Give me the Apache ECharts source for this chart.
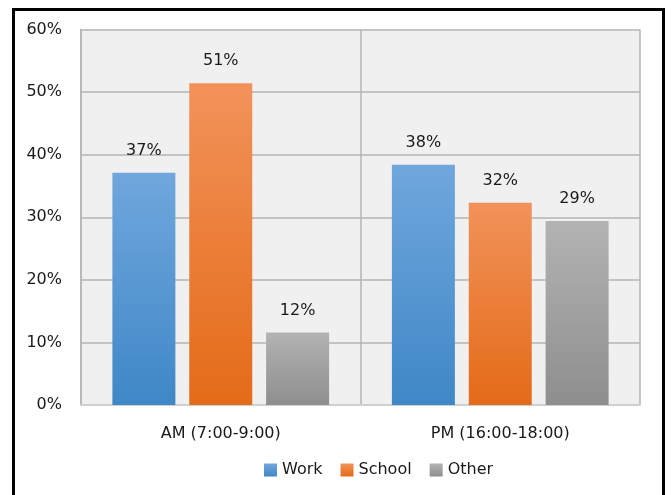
<!DOCTYPE html>
<html>
<head>
<meta charset="utf-8">
<script src="https://cdn.jsdelivr.net/npm/echarts@6/dist/echarts.min.js"></script>
<style>
html,body{margin:0;padding:0;background:#fff;}
#c{width:671px;height:495px;}
</style>
</head>
<body>
<div id="c"></div>
<script>
const categories = ['AM (7:00-9:00)', 'PM (16:00-18:00)'];
const work = [37.1, 38.4];
const school = [51.4, 32.3];
const other = [11.6, 29.4];
const seriesNames = ['Work', 'School', 'Other'];

const FONT = '"DejaVu Sans", sans-serif';
function grad(top, bottom) {
  return new echarts.graphic.LinearGradient(0, 0, 0, 1, [
    {offset: 0, color: top}, {offset: 1, color: bottom}
  ]);
}
const colors = [
  grad('#70a7dd', '#3f87c7'),
  grad('#f2925a', '#e46b18'),
  grad('#b3b3b3', '#8e8e8e')
];
const chart = echarts.init(document.getElementById('c'), null, {renderer: 'canvas'});
const label = {
  show: true, position: 'top', distance: 14,
  fontFamily: FONT, fontSize: 16, color: '#1a1a1a',
  formatter: p => Math.round(p.value) + '%'
};
chart.setOption({
  animation: false,
  backgroundColor: '#fff',
  graphic: [{
    type: 'rect', left: 11, top: 7, z: 100,
    shape: {x: 11, y: 7, width: 650, height: 520},
    style: {fill: 'none', stroke: '#000', lineWidth: 3}
  }],
  grid: {left: 81, right: 31, top: 29.5, bottom: 90, show: true,
         backgroundColor: '#f0f0f0', borderWidth: 0},
  legend: {
    data: seriesNames, left: 259, top: 457, icon: 'rect',
    itemWidth: 13, itemHeight: 13, itemGap: 18,
    textStyle: {fontFamily: FONT, fontSize: 16, color: '#1a1a1a'}
  },
  xAxis: {
    type: 'category', data: categories,
    axisLine: {lineStyle: {color: '#d0d0d0', width: 2}},
    axisTick: {show: false},
    splitLine: {show: true, lineStyle: {color: '#b4b4b4', width: 1.5}},
    axisLabel: {fontFamily: FONT, fontSize: 16, color: '#1a1a1a', margin: 21}
  },
  yAxis: {
    type: 'value', min: 0, max: 60, interval: 10,
    axisLine: {show: true, lineStyle: {color: '#b4b4b4', width: 1.5}},
    axisTick: {show: false},
    splitLine: {lineStyle: {color: '#b4b4b4', width: 1.5}},
    axisLabel: {fontFamily: FONT, fontSize: 16, color: '#1a1a1a', margin: 19, formatter: '{value}%'}
  },
  series: [
    {name: 'Work', type: 'bar', data: work, barWidth: 63, barGap: '22%', itemStyle: {color: colors[0]}, label},
    {name: 'School', type: 'bar', data: school, barWidth: 63, barGap: '22%', itemStyle: {color: colors[1]}, label},
    {name: 'Other', type: 'bar', data: other, barWidth: 63, barGap: '22%', itemStyle: {color: colors[2]}, label}
  ]
});
</script>
</body>
</html>
